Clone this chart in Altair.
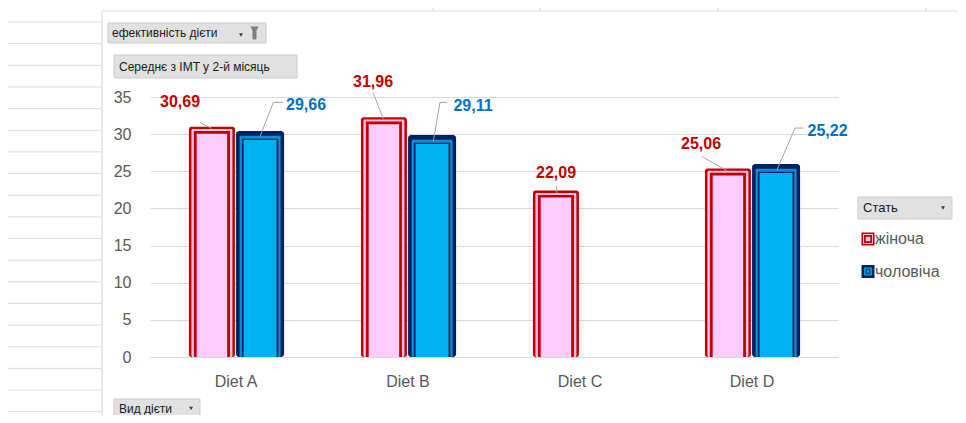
import altair as alt
import pandas as pd

# ---------------- data ----------------
diets = ["Diet A", "Diet B", "Diet C", "Diet D"]
sexes = ["жіноча", "чоловіча"]
female_bmi = [30.69, 31.96, 22.09, 25.06]
male_bmi = [29.66, 29.11, None, 25.22]
y_ticks = [0, 5, 10, 15, 20, 25, 30, 35]
legend_title = "Стать"
filter_field = "ефективність дієти"
value_field = "Середнє з IMT  у 2-й місяць"
axis_field = "Вид дієти"

rows = []
for d, f, m in zip(diets, female_bmi, male_bmi):
    rows.append({"diet": d, "sex": sexes[0], "value": f})
    if m is not None:
        rows.append({"diet": d, "sex": sexes[1], "value": m})
df = pd.DataFrame(rows)
df["label"] = df["value"].map(lambda v: f"{v:.2f}".replace(".", ","))

# ---------------- styling / layout ----------------
FONT = "Liberation Sans"
GRAY_TXT = "#595959"
RED, PINK, PINK_RING = "#c00000", "#ffccff", "#f5bfe0"
NAVY, BLUE, BLUE_RING = "#002060", "#00b0f0", "#0090d8"
label_colors = {sexes[0]: RED, sexes[1]: "#0070c0"}

# label text offset (px from bar-group centre / bar top) and leader segments
label_layout = {
    ("Diet A", sexes[0]): {"dx": -56, "dy": -21.8, "lead": [(-36, -6.6, -24.3, -0.6)]},
    ("Diet A", sexes[1]): {"dx": 70, "dy": -27, "lead": [(24, 0, 37.3, -34.2), (37.3, -34.2, 47, -34.2)]},
    ("Diet B", sexes[0]): {"dx": -35, "dy": -32.8, "lead": [(-34.7, -26.5, -24.7, -0.5)]},
    ("Diet B", sexes[1]): {"dx": 65, "dy": -30, "lead": [(25.3, 0.7, 32, -38.3), (32, -38.3, 39, -38.3)]},
    ("Diet C", sexes[0]): {"dx": -24, "dy": -14.7, "lead": [(-23.3, -7.2, -23.3, 0.1)]},
    ("Diet D", sexes[0]): {"dx": -51, "dy": -21.8, "lead": [(-50.3, -14.4, -25.3, -0.4)]},
    ("Diet D", sexes[1]): {"dx": 75.5, "dy": -33.4, "lead": [(24.7, 0.8, 43, -41.6), (43, -41.6, 51.3, -41.6)]},
}

x_scale = alt.Scale(domain=diets, paddingInner=0.44, paddingOuter=0.22)
y_scale = alt.Scale(domain=[0, 35], nice=False, zero=True)
xo_scale = alt.Scale(domain=sexes, paddingInner=0, paddingOuter=0)

x_axis = alt.Axis(title=None, labelFont=FONT, labelFontSize=16, labelColor=GRAY_TXT,
                  ticks=False, domain=False, grid=False, labelPadding=16, labelAngle=0)
y_axis = alt.Axis(title=None, values=y_ticks, labelFont=FONT, labelFontSize=16,
                  labelColor=GRAY_TXT, ticks=False, domain=False, grid=True,
                  gridColor="#d9d9d9", gridWidth=1, labelPadding=19)

X = alt.X("diet:N", scale=x_scale, axis=x_axis)
Y = alt.Y("value:Q", scale=y_scale, axis=y_axis, stack=None)


def bars(sex, size, color, yoff, y2off, xoff=0, radius=0):
    return alt.Chart(df).transform_filter(alt.datum.sex == sex).mark_bar(
        size=size, color=color, yOffset=yoff, y2Offset=y2off, xOffset=xoff,
        cornerRadius=radius,
    ).encode(
        x=X,
        xOffset=alt.XOffset("sex:N", scale=xo_scale),
        y=Y,
    )


bar_layers = [
    bars(sexes[0], 46, RED, -2.3, 0, -1.5, 2.5),
    bars(sexes[0], 41, PINK_RING, 0, -0.5, -1.5, 1.5),
    bars(sexes[0], 36, RED, 2, -5.3, -1.5),
    bars(sexes[0], 30.5, PINK, 4.7, -8, -1.5),
    bars(sexes[1], 48, NAVY, -5.7, 0, 0, 3),
    bars(sexes[1], 41, BLUE_RING, -1, -2.7, 0, 1),
    bars(sexes[1], 36.5, NAVY, 2, -5.3, 0),
    bars(sexes[1], 33, BLUE, 3.3, -7, 0),
]

label_layers = []
for (d, s), lay in label_layout.items():
    sel = alt.Chart(df).transform_filter((alt.datum.diet == d) & (alt.datum.sex == s))
    for (x1, y1, x2, y2) in lay["lead"]:
        label_layers.append(sel.mark_rule(
            color="#a6a6a6", strokeWidth=1, xOffset=x1, x2Offset=x2, yOffset=y1, y2Offset=y2
        ).encode(
            x=X,
            x2=alt.X2("diet", bandPosition=0.5),
            y=Y,
            y2=alt.Y2("value"),
        ))
    label_layers.append(sel.mark_text(
        dx=lay["dx"], dy=lay["dy"], align="center", baseline="alphabetic",
        font=FONT, fontSize=16, fontWeight="bold", color=label_colors[s],
    ).encode(
        x=X,
        y=Y,
        text="label:N",
    ))

main = alt.layer(*bar_layers, *label_layers)

# ---------------- decorations (spreadsheet, pivot buttons) ----------------
one = pd.DataFrame({"k": [0]})


def box(x1, x2, y1, y2, fill="#e1e1e1", stroke="#cccccc"):
    return alt.Chart(one).mark_rect(fill=fill, stroke=stroke, strokeWidth=1).encode(
        x=alt.value(x1), x2=alt.value(x2), y=alt.value(y1), y2=alt.value(y2))


def label(txt, x, y, size=12, color="#1a1a1a", align="left"):
    return alt.Chart(one).mark_text(text=txt, font=FONT, fontSize=size, color=color,
                                    align=align, baseline="middle").encode(
        x=alt.value(x), y=alt.value(y))


def tri(x, y, size=18, color="#404040"):
    return alt.Chart(one).mark_point(shape="triangle-down", filled=True, size=size,
                                     color=color, opacity=1).encode(
        x=alt.value(x), y=alt.value(y))


def line(x1, x2, y1, y2, color="#d4d4d4"):
    return alt.Chart(one).mark_rule(color=color, strokeWidth=1).encode(
        x=alt.value(x1), x2=alt.value(x2), y=alt.value(y1), y2=alt.value(y2))


sheet_rows = pd.DataFrame({"r": list(range(19))})
rows_layer = alt.Chart(sheet_rows).mark_rule(color="#d9d9d9", strokeWidth=1).encode(
    x=alt.value(-143), x2=alt.value(-49),
    y=alt.Y("r:Q", scale=alt.Scale(domain=[0, 18], range=[-75, 314.7], nice=False, zero=False),
            axis=None),
)

decor = [
    rows_layer,
    line(-48, -48, -86, 330, "#d0d0d0"),
    line(-48, 820, -86, -86, "#dcdcdc"),
    line(283, 283, -90, -86, "#d0d0d0"),
    line(390, 390, -90, -86, "#d0d0d0"),
    line(568, 568, -90, -86, "#d0d0d0"),
    line(776, 776, -90, -86, "#d0d0d0"),
    box(-42, 116, -74, -54),
    label(filter_field, -38, -64, 12),
    tri(91, -62, 16),
    tri(104.5, -67, 70, "#808080"),
    box(103, 106, -67, -58, "#808080", "#808080"),
    box(-36, 147, -42, -19),
    label(value_field, -31, -30.5, 12),
    box(708, 802, 100, 122),
    label(legend_title, 713, 111, 13),
    tri(793, 111, 16),
    box(-36, 50, 302, 322),
    label(axis_field, -31, 311.5, 12),
    tri(41, 311.5, 16),
]

# ---------------- legend ----------------
legend_df = pd.DataFrame({"sex": sexes})
leg_y = alt.Y("sex:N", scale=alt.Scale(domain=sexes, range=[142, 174.5], padding=0), axis=None)


def leg_sq(size, colors):
    return alt.Chart(legend_df).mark_square(size=size * size, opacity=1, strokeWidth=0).encode(
        x=alt.value(718), y=leg_y,
        color=alt.Color("sex:N", scale=alt.Scale(domain=sexes, range=colors), legend=None),
    )


legend = alt.layer(
    leg_sq(13, [RED, NAVY]),
    leg_sq(10, [PINK_RING, NAVY]),
    leg_sq(8, [RED, BLUE_RING]),
    leg_sq(4.5, [PINK, NAVY]),
    leg_sq(2.5, [PINK, BLUE]),
    alt.Chart(legend_df).mark_text(font=FONT, fontSize=16, color=GRAY_TXT, align="left",
                                   baseline="middle").encode(
        x=alt.value(725), y=leg_y, text="sex:N"),
).resolve_scale(color="independent")

chart = alt.layer(*decor, legend, main).resolve_scale(
    y="independent", x="independent", color="independent"
).properties(
    width=688, height=260,
    padding={"left": 142, "top": 89, "right": 120, "bottom": 58},
    autosize=alt.AutoSizeParams(type="none"),
    background="white",
).configure_view(stroke=None)

chart.save("out.html", embed_options={"renderer": "svg", "actions": False})
